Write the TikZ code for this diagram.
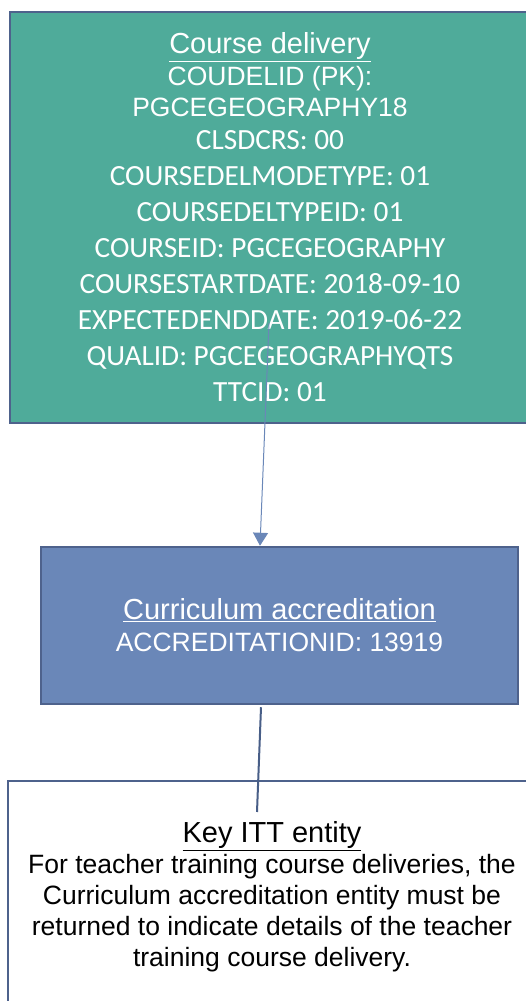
\documentclass[tikz,border=0pt]{standalone}
\usepackage{fontspec}
\setmainfont{Liberation Sans}
\newfontfamily\calibri{Carlito}
\usetikzlibrary{arrows.meta}
\definecolor{coursegreen}{RGB}{79,171,154}
\definecolor{accrblue}{RGB}{106,135,184}
\definecolor{edgeblue}{RGB}{78,98,140}
\definecolor{tieblue}{RGB}{72,94,135}
% title, Arial field and Calibri field sizes
\newcommand\hdsize{\fontsize{29}{31}\selectfont}
\newcommand\fdsize{\fontsize{26.5}{31}\selectfont}
\newcommand\cfsize{\calibri\fontsize{29.3}{31}\selectfont}
\tikzset{
        entity/.style={draw=edgeblue, line width=2.5pt, text=white, align=center, inner sep=0pt, font=\fontsize{26.5}{31}\selectfont},
        keybox/.style={draw=edgeblue, line width=2pt, fill=white, text=black, align=center, inner sep=0pt, font=\fontsize{26.5}{31}\selectfont},
        link/.style={draw=accrblue, line width=1pt, -{Triangle[length=13pt,width=15pt]}},
        tie/.style={draw=tieblue, line width=2pt}
          }
\begin{document}
\begin{tikzpicture}[x=1pt,y=1pt]
        \useasboundingbox (0,0) rectangle (526,1001);
        \clip (0,0) rectangle (526,1001);
        \node[entity, fill=coursegreen, minimum width=520pt, minimum height=411pt] (course) at (270,783.5)
          {\hdsize\underline{Course delivery}\\[1pt]
           \fdsize COUDELID (PK):\\
           \fdsize PGCEGEOGRAPHY18\\[2pt]
           \cfsize CLSDCRS: 00\\[5pt]
           \cfsize COURSEDELMODETYPE: 01\\[5pt]
           \cfsize COURSEDELTYPEID: 01\\[5pt]
           \cfsize COURSEID: PGCEGEOGRAPHY\\[5pt]
           \cfsize COURSESTARTDATE: 2018-09-10\\[5pt]
           \cfsize EXPECTEDENDDATE: 2019-06-22\\[5pt]
           \cfsize QUALID: PGCEGEOGRAPHYQTS\\[5pt]
           \cfsize TTCID: 01};
        \node[entity, fill=accrblue, minimum width=477pt, minimum height=157pt] (accr) at (279.5,375.5)
          {\hdsize\underline{Curriculum accreditation}\\[1pt]
           \fdsize ACCREDITATIONID: 13919};
        \node[keybox, minimum width=528pt, minimum height=232pt] (keynote) at (272,104)
          {\hdsize\underline{Key ITT entity}\\
           For teacher training course deliveries, the\\
           Curriculum accreditation entity must be\\
           returned to indicate details of the teacher\\
           training course delivery.};
        \draw[link] ([shift={(-1,101)}]course.south) -- ([xshift=-19.5pt]accr.north);
        \draw[tie] ([shift={(-18.5,-2)}]accr.south) -- ([shift={(-15,-32)}]keynote.north);
\end{tikzpicture}
\end{document}
